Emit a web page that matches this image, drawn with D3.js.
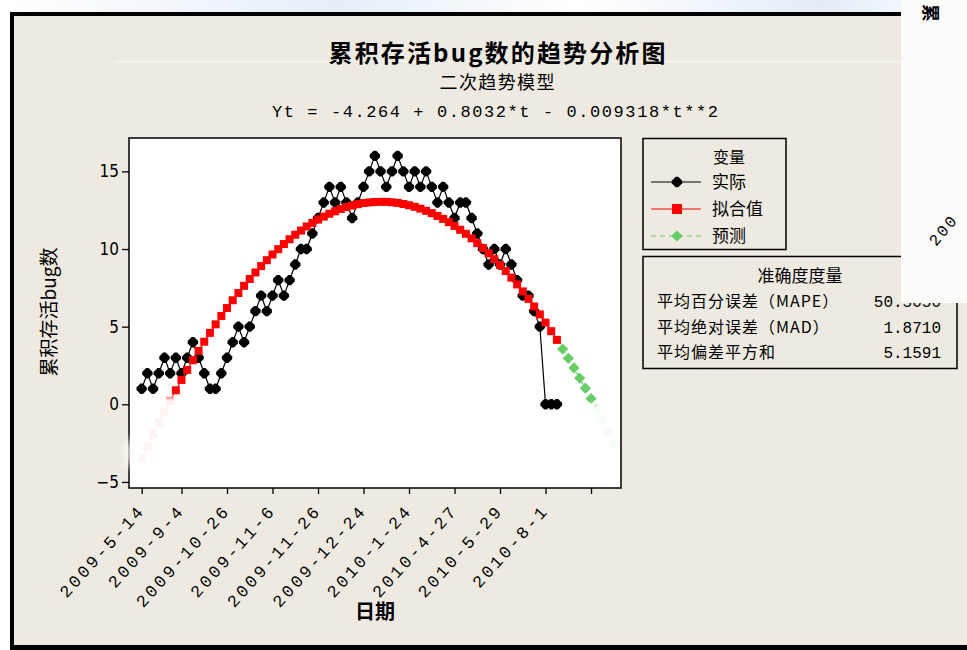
<!DOCTYPE html>
<html>
<head>
<meta charset="utf-8">
<script src="https://cdn.jsdelivr.net/npm/d3@7"></script>
<style>
  html, body { margin: 0; padding: 0; background: #ffffff; overflow: hidden; }
  svg { display: block; }
</style>
</head>
<body>
<svg id="chart" width="967" height="650"></svg>
<script>
// ---- data -------------------------------------------------------------
// period index of every labelled / unlabelled x tick
const tickIndex = [1, 8, 16, 24, 32, 40, 48, 56, 64, 72, 80];
// date stamps shown under the ticks (the last tick falls in the forecast range)
const dateLabels = ["2009-5-14", "2009-9-4", "2009-10-26", "2009-11-6", "2009-11-26",
                    "2009-12-24", "2010-1-24", "2010-4-27", "2010-5-29", "2010-8-1"];
const yTicks = [-5, 0, 5, 10, 15];

// cumulative open bugs, periods 1..74
const actual = [1, 2, 1, 2, 3, 2, 3, 2, 3, 4, 3, 2, 1, 1, 2, 3, 4, 5, 4, 5,
                6, 7, 6, 7, 8, 7, 8, 9, 10, 10, 11, 12, 13, 14, 13, 14, 13, 12, 13, 14,
                15, 16, 15, 14, 15, 16, 15, 14, 15, 14, 15, 14, 13, 14, 13, 12, 13, 13, 12, 11,
                10, 9, 10, 9, 10, 9, 8, 7, 7, 6, 5, 0, 0, 0];

// fitted values of the quadratic trend, periods 1..74
const fitted = [-3.47, -2.69, -1.94, -1.20, -0.48, 0.22, 0.90, 1.57, 2.21, 2.84,
                3.44, 4.03, 4.60, 5.15, 5.69, 6.20, 6.70, 7.17, 7.63, 8.07,
                8.49, 8.90, 9.28, 9.65, 9.99, 10.32, 10.63, 10.92, 11.19, 11.45,
                11.68, 11.90, 12.09, 12.27, 12.43, 12.58, 12.70, 12.80, 12.89, 12.96,
                13.00, 13.03, 13.04, 13.04, 13.01, 12.97, 12.90, 12.82, 12.72, 12.60,
                12.46, 12.31, 12.13, 11.94, 11.73, 11.49, 11.24, 10.98, 10.69, 10.38,
                10.06, 9.72, 9.35, 8.97, 8.58, 8.16, 7.72, 7.27, 6.79, 6.30,
                5.79, 5.26, 4.71, 4.15];

// forecasts, periods 75..84
const forecast = [3.56, 2.96, 2.34, 1.69, 1.04, 0.36, -0.34, -1.06, -1.79, -2.54];

const legendItems = ["实际", "拟合值", "预测"];
const accuracyNames = ["平均百分误差（MAPE）", "平均绝对误差（MAD）", "平均偏差平方和"];
const accuracyValues = ["50.5050", "1.8710", "5.1591"];

// ---- layout ------------------------------------------------------------
const svg = d3.select("#chart");
const W = 967, H = 650;
const plot = { left: 129, right: 621, top: 138, bottom: 488 };
const bg = "#eeeae1";
const green = "#66cc66";
const cjk = "'Noto Sans CJK SC', 'Noto Sans', sans-serif";
const mono = "'Liberation Mono', 'DejaVu Sans Mono', monospace";
const num = "'DejaVu Sans', sans-serif";

const x = d3.scaleLinear().domain([-1.233, 85.27]).range([plot.left, plot.right]);
const y = d3.scaleLinear().domain([-5.39, 17.15]).range([plot.bottom, plot.top]);

const actualPts = actual.map((v, i) => ({ t: i + 1, v }));
const fittedPts = fitted.map((v, i) => ({ t: i + 1, v }));
const forecastPts = forecast.map((v, i) => ({ t: actual.length + i + 1, v }));

const defs = svg.append("defs");
defs.append("filter").attr("id", "haze")
  .attr("x", "-50%").attr("y", "-50%").attr("width", "200%").attr("height", "200%")
  .append("feGaussianBlur").attr("stdDeviation", 4);
defs.append("filter").attr("id", "soft")
  .attr("x", "-20%").attr("y", "-20%").attr("width", "140%").attr("height", "140%")
  .append("feGaussianBlur").attr("stdDeviation", 2);
// the low ends of the curves are washed out
const mask = defs.append("mask").attr("id", "wash").attr("maskUnits", "userSpaceOnUse")
  .attr("x", 0).attr("y", 0).attr("width", W).attr("height", H);
mask.append("rect").attr("width", W).attr("height", H).attr("fill", "#fff");
const washG = mask.append("g").attr("filter", "url(#soft)");
washG.append("rect").attr("x", 110).attr("y", 397).attr("width", 76).attr("height", 100).attr("fill", "#080808");
washG.append("rect").attr("x", 583).attr("y", 404).attr("width", 50).attr("height", 90).attr("fill", "#080808");

const sky = defs.append("linearGradient").attr("id", "sky");
sky.append("stop").attr("offset", "0%").attr("stop-color", "#ffffff");
sky.append("stop").attr("offset", "35%").attr("stop-color", "#e6eef8");
sky.append("stop").attr("offset", "60%").attr("stop-color", "#ffffff");
sky.append("stop").attr("offset", "85%").attr("stop-color", "#e3ecf7");
sky.append("stop").attr("offset", "100%").attr("stop-color", "#ffffff");
const clip = defs.append("clipPath").attr("id", "sideClip");
clip.append("rect").attr("x", 901).attr("y", 0).attr("width", W - 901).attr("height", 303);

// ---- window chrome -----------------------------------------------------
svg.append("rect").attr("width", W).attr("height", H).attr("fill", "url(#sky)");
svg.append("rect").attr("x", 10).attr("y", 12).attr("width", W - 10).attr("height", H - 12).attr("fill", bg);
svg.append("rect").attr("x", 10).attr("y", 12).attr("width", 891).attr("height", 4).attr("fill", "#000");
svg.append("rect").attr("x", 10).attr("y", 12).attr("width", 4).attr("height", H - 12).attr("fill", "#000");
svg.append("rect").attr("x", 10).attr("y", 645).attr("width", W - 10).attr("height", 5).attr("fill", "#000");
svg.append("line").attr("x1", 115).attr("x2", 901).attr("y1", 61.5).attr("y2", 61.5)
  .attr("stroke", "#ffffff").attr("stroke-opacity", 0.7);

// ---- titles ------------------------------------------------------------
svg.append("text").attr("x", 497).attr("y", 62).attr("text-anchor", "middle")
  .attr("font-family", cjk).attr("font-weight", "bold").attr("font-size", 24)
  .attr("textLength", 337).attr("lengthAdjust", "spacing")
  .text("累积存活bug数的趋势分析图");
svg.append("text").attr("x", 497).attr("y", 89).attr("text-anchor", "middle")
  .attr("font-family", cjk).attr("font-size", 18)
  .attr("textLength", 115).attr("lengthAdjust", "spacing")
  .text("二次趋势模型");
svg.append("text").attr("x", 495).attr("y", 117).attr("text-anchor", "middle")
  .attr("font-family", mono).attr("font-size", 17)
  .attr("textLength", 446).attr("lengthAdjust", "spacing")
  .text("Yt = -4.264 + 0.8032*t - 0.009318*t**2");

// ---- plot area ----------------------------------------------------------
svg.append("rect").attr("x", plot.left).attr("y", plot.top)
  .attr("width", plot.right - plot.left).attr("height", plot.bottom - plot.top)
  .attr("fill", "#ffffff").attr("stroke", "#000").attr("stroke-width", 1.5);

// y axis
const yAxis = d3.axisLeft(y).tickValues(yTicks).tickSize(7).tickPadding(3)
  .tickFormat(d => d < 0 ? "\u2212" + Math.abs(d) : String(d));
const gy = svg.append("g").attr("transform", `translate(${plot.left},0)`).call(yAxis);
gy.select(".domain").remove();
gy.selectAll(".tick line").attr("stroke", "#000").attr("stroke-width", 1.3);
gy.selectAll(".tick text").attr("font-family", num).attr("font-stretch", "condensed")
  .attr("font-size", 17).attr("fill", "#000");

// x axis
const xAxis = d3.axisBottom(x).tickValues(tickIndex).tickSize(6).tickFormat("");
const gx = svg.append("g").attr("transform", `translate(0,${plot.bottom})`).call(xAxis);
gx.select(".domain").remove();
gx.selectAll(".tick line").attr("stroke", "#000").attr("stroke-width", 1.3);

svg.append("g").selectAll("text").data(dateLabels).join("text")
  .attr("transform", (d, i) => `translate(${x(tickIndex[i]) + 4},${plot.bottom + 23}) rotate(-48)`)
  .attr("text-anchor", "end")
  .attr("font-family", mono).attr("font-size", 17).attr("letter-spacing", 2.9)
  .attr("fill", "#000")
  .text(d => d);

svg.append("text").attr("x", (plot.left + plot.right) / 2).attr("y", 619)
  .attr("text-anchor", "middle").attr("font-family", cjk).attr("font-weight", "bold")
  .attr("font-size", 20).text("日期");

svg.append("text").attr("transform", "translate(56,312) rotate(-90)")
  .attr("text-anchor", "middle").attr("font-family", cjk).attr("font-size", 19)
  .text("累积存活bug数");

// ---- series --------------------------------------------------------------
const marks = svg.append("g").attr("mask", "url(#wash)");
const blob = "M-1.3,-5.2L1.3,-5.2L5.2,-1.3L5.2,1.3L1.3,5.2L-1.3,5.2L-5.2,1.3L-5.2,-1.3Z";
const diamond = "M0,-5.6L5.6,0L0,5.6L-5.6,0Z";

const line = d3.line().x(d => x(d.t)).y(d => y(d.v));

marks.append("path").datum(actualPts).attr("d", line)
  .attr("fill", "none").attr("stroke", "#000").attr("stroke-width", 1.2);
marks.append("g").selectAll("path").data(actualPts).join("path")
  .attr("transform", d => `translate(${x(d.t)},${y(d.v)})`).attr("d", blob).attr("fill", "#000");

marks.append("path").datum(fittedPts).attr("d", line)
  .attr("fill", "none").attr("stroke", "#ff0000").attr("stroke-width", 1.2);
marks.append("g").selectAll("rect").data(fittedPts).join("rect")
  .attr("x", d => x(d.t) - 4).attr("y", d => y(d.v) - 4)
  .attr("width", 8).attr("height", 8).attr("fill", "#ff0000");

marks.append("path").datum(forecastPts).attr("d", line)
  .attr("fill", "none").attr("stroke", green).attr("stroke-width", 1.2).attr("stroke-dasharray", "5,4");
marks.append("g").selectAll("path").data(forecastPts).join("path")
  .attr("transform", d => `translate(${x(d.t)},${y(d.v)})`).attr("d", diamond).attr("fill", green);

// faint smear over the lower left corner of the frame
svg.append("ellipse").attr("cx", 132).attr("cy", 453).attr("rx", 6).attr("ry", 15)
  .attr("fill", "#ffffff").attr("fill-opacity", 0.9).attr("filter", "url(#haze)");

// ---- legend ----------------------------------------------------------------
const lg = svg.append("g");
lg.append("rect").attr("x", 643).attr("y", 138.5).attr("width", 143).attr("height", 111)
  .attr("fill", bg).attr("stroke", "#000").attr("stroke-width", 1.5);
lg.append("text").attr("x", 729).attr("y", 163).attr("text-anchor", "middle")
  .attr("font-family", cjk).attr("font-size", 16).text("变量");
const rowY = [182, 209, 236];
const rows = lg.selectAll("g.row").data(legendItems).join("g").attr("class", "row")
  .attr("transform", (d, i) => `translate(0,${rowY[i]})`);
rows.append("line").attr("x1", 651).attr("x2", 701).attr("y1", 0).attr("y2", 0)
  .attr("stroke", (d, i) => ["#000", "#ff0000", green][i]).attr("stroke-width", 1.2)
  .attr("stroke-dasharray", (d, i) => i === 2 ? "5,4" : null);
rows.each(function (d, i) {
  const g = d3.select(this);
  if (i === 0) g.append("path").attr("transform", "translate(677,0)").attr("d", blob).attr("fill", "#000");
  if (i === 1) g.append("rect").attr("x", 672).attr("y", -5).attr("width", 10).attr("height", 10).attr("fill", "#ff0000");
  if (i === 2) g.append("path").attr("transform", "translate(677,0)").attr("d", diamond).attr("fill", green);
});
rows.append("text").attr("x", 712).attr("y", 6).attr("font-family", cjk).attr("font-size", 17)
  .text(d => d);

// ---- accuracy measures ------------------------------------------------------
const ac = svg.append("g");
ac.append("rect").attr("x", 643).attr("y", 256.5).attr("width", 314).attr("height", 112)
  .attr("fill", bg).attr("stroke", "#000").attr("stroke-width", 1.5);
ac.append("text").attr("x", 800).attr("y", 282).attr("text-anchor", "middle")
  .attr("font-family", cjk).attr("font-size", 17).text("准确度度量");
const accY = [307, 333, 358];
ac.selectAll("text.name").data(accuracyNames).join("text").attr("class", "name")
  .attr("x", 657).attr("y", (d, i) => accY[i]).attr("font-family", cjk).attr("font-size", 16)
  .attr("letter-spacing", 1).text(d => d);
ac.selectAll("text.val").data(accuracyValues).join("text").attr("class", "val")
  .attr("x", 941).attr("y", (d, i) => accY[i]).attr("text-anchor", "end")
  .attr("font-family", mono).attr("font-size", 16).text(d => d);

// ---- neighbouring window at the right edge ----------------------------------
const side = svg.append("g").attr("clip-path", "url(#sideClip)");
side.append("rect").attr("x", 901).attr("y", 0).attr("width", W - 901).attr("height", 303).attr("fill", "#fbfbfa");
side.append("text").attr("transform", "translate(924,4) rotate(90)")
  .attr("font-family", cjk).attr("font-weight", "bold").attr("font-size", 18).text("累");
side.append("text").attr("transform", "translate(936,247) rotate(-50)")
  .attr("font-family", mono).attr("font-size", 16).attr("letter-spacing", 2.2).text("200");
</script>
</body>
</html>
